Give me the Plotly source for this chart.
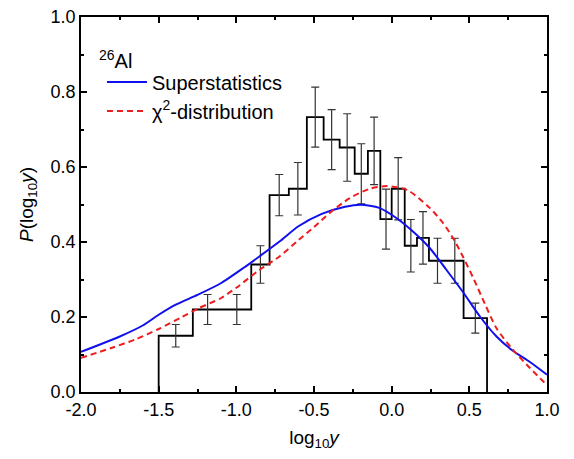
import plotly.graph_objects as go

# Histogram (bin edges in log10 y, heights, errors)
bin_edges = [-1.5, -1.28, -1.09, -0.904, -0.786, -0.662, -0.546, -0.438, -0.335,
             -0.238, -0.153, -0.073, 0.0, 0.084, 0.163, 0.24, 0.35, 0.463, 0.614]
bin_heights = [0.15, 0.22, 0.22, 0.34, 0.525, 0.542, 0.733, 0.673, 0.652,
               0.582, 0.643, 0.461, 0.542, 0.39, 0.411, 0.35, 0.35, 0.197]
bin_errors = [0.03, 0.04, 0.04, 0.05, 0.055, 0.07, 0.08, 0.08, 0.09,
              0.08, 0.09, 0.08, 0.083, 0.07, 0.07, 0.06, 0.06, 0.04]

# Superstatistics curve
super_x = [-2.0, -1.75, -1.6, -1.5, -1.39, -1.25, -1.1, -0.95, -0.85, -0.72,
           -0.6, -0.45, -0.3, -0.2, -0.08, 0.03, 0.137, 0.245, 0.352,
           0.46, 0.567, 0.675, 0.78, 0.89, 1.0]
super_y = [0.107, 0.148, 0.178, 0.206, 0.233, 0.259, 0.29, 0.332, 0.362, 0.402,
           0.442, 0.475, 0.494, 0.4995, 0.491, 0.464, 0.428, 0.384, 0.326,
           0.266, 0.202, 0.148, 0.11, 0.08, 0.046]

# chi^2-distribution curve
chi_x = [-2.0, -1.8, -1.65, -1.5, -1.35, -1.25, -1.1, -1.0, -0.85, -0.72,
         -0.6, -0.5, -0.4, -0.27, -0.14, -0.03, 0.1, 0.245, 0.33, 0.4, 0.46, 0.53,
         0.6, 0.675, 0.78, 0.89, 1.0]
chi_y = [0.091, 0.118, 0.14, 0.168, 0.2, 0.222, 0.25, 0.278, 0.326, 0.362,
         0.405, 0.44, 0.477, 0.517, 0.542, 0.549, 0.539, 0.491, 0.451, 0.407, 0.36, 0.3,
         0.235, 0.17, 0.113, 0.064, 0.018]

x_ticks = [-2.0, -1.5, -1.0, -0.5, 0.0, 0.5, 1.0]
y_ticks = [0.0, 0.2, 0.4, 0.6, 0.8, 1.0]

centers = [(a + b) / 2 for a, b in zip(bin_edges[:-1], bin_edges[1:])]

fig = go.Figure()

fig.add_trace(go.Scatter(
    x=bin_edges + [bin_edges[-1]],
    y=[0] + bin_heights + [0],
    mode="lines", line=dict(color="black", width=1.8, shape="vh"),
    showlegend=False, hoverinfo="skip"))

fig.add_trace(go.Scatter(
    x=centers, y=bin_heights, mode="markers",
    marker=dict(size=1, color="rgba(0,0,0,0)"),
    error_y=dict(type="data", array=bin_errors, visible=True,
                 color="#333333", thickness=1.2, width=4),
    showlegend=False, hoverinfo="skip"))

fig.add_trace(go.Scatter(
    x=super_x, y=super_y, mode="lines", name="Superstatistics",
    line=dict(color="#1010ee", width=2, shape="spline", smoothing=0.7)))

fig.add_trace(go.Scatter(
    x=chi_x, y=chi_y, mode="lines", name="χ<sup>2</sup>-distribution",
    line=dict(color="#ee1c1c", width=2, dash="6px,4px", shape="spline", smoothing=0.7)))

font_family = "Liberation Sans, Arial, sans-serif"

fig.add_annotation(
    x=0.035, y=0.887, xref="paper", yref="paper", xanchor="left", yanchor="middle",
    text="<sup>26</sup>Al", showarrow=False,
    font=dict(family=font_family, size=20, color="black"))

fig.update_layout(
    width=574, height=459,
    margin=dict(l=73, r=35, t=9, b=75),
    paper_bgcolor="white", plot_bgcolor="white",
    font=dict(family=font_family, size=18, color="black"),
    legend=dict(x=0.045, y=0.879, xanchor="left", yanchor="top",
                bgcolor="rgba(0,0,0,0)", font=dict(size=20),
                tracegroupgap=0, itemwidth=40),
    showlegend=True,
)

fig.update_xaxes(
    range=[-2.0, 1.0], tickvals=x_ticks, ticktext=[f"{v:.1f}" for v in x_ticks],
    ticks="inside", ticklen=6, tickwidth=1.5, tickcolor="black",
    showline=True, linecolor="black", linewidth=1.8, mirror="ticks",
    showgrid=False, zeroline=False, automargin=False, ticklabeloverflow="allow",
    minor=dict(ticks="inside", ticklen=3, tickwidth=1.5, tickcolor="black",
               tickvals=[-1.75, -1.25, -0.75, -0.25, 0.25, 0.75], showgrid=False),
    title=dict(text="log<sub>10</sub><i>y</i>", font=dict(size=19), standoff=12),
)

fig.update_yaxes(
    range=[0.0, 1.0], tickvals=y_ticks, ticktext=[f"{v:.1f}" for v in y_ticks],
    ticks="inside", ticklen=6, tickwidth=1.5, tickcolor="black",
    showline=True, linecolor="black", linewidth=1.8, mirror="ticks",
    showgrid=False, zeroline=False, automargin=False, ticklabeloverflow="allow",
    minor=dict(ticks="inside", ticklen=3, tickwidth=1.5, tickcolor="black",
               tickvals=[0.1, 0.3, 0.5, 0.7, 0.9], showgrid=False),
    title=dict(text="<i>P</i>(log<sub>10</sub><i>y</i>)", font=dict(size=19), standoff=12),
)

fig.write_html("out.html")
